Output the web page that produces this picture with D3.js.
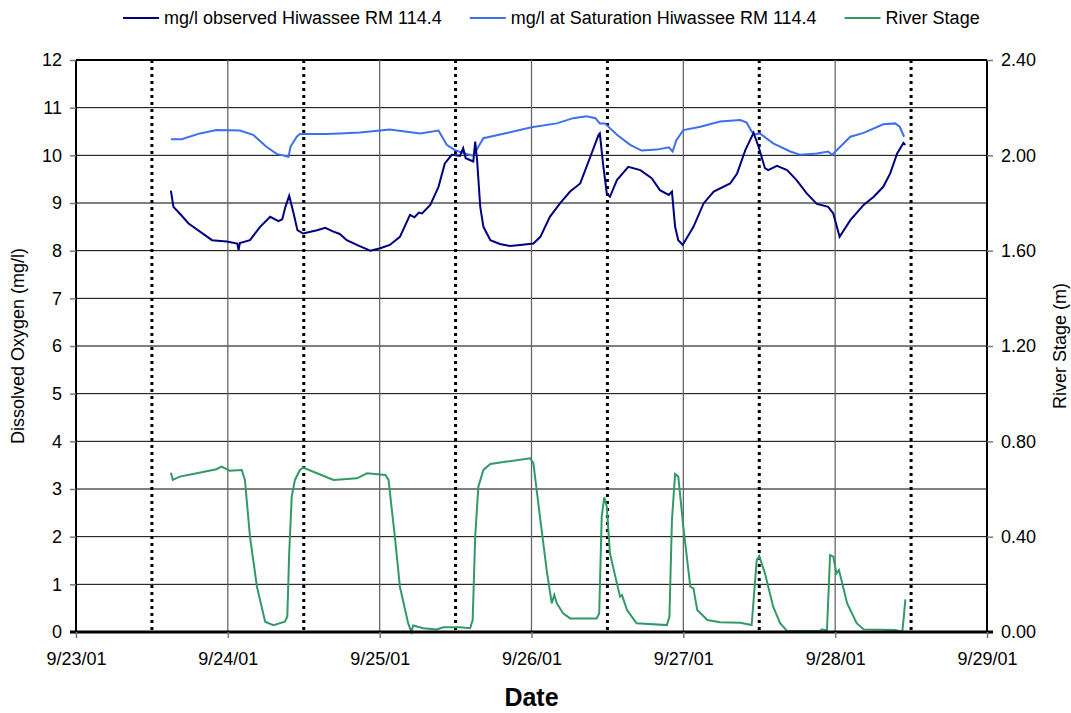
<!DOCTYPE html>
<html lang="en">
<head>
    <meta charset="UTF-8">
    <title>Hiwassee RM 114.4 Dissolved Oxygen</title>
    <style>
        body { margin: 0; background: #fff; }
        text { font-family: "Liberation Sans", Arial, sans-serif; fill: #000; }
    </style>
</head>
<body>
    <svg id="chart" width="1071" height="713"></svg>
    <script src="https://d3js.org/d3.v7.min.js"></script>
    <script>
        // hours after 9/23/01 00:00 and the value read at that time
        const observedHours = [15.0, 15.4, 16.4, 17.8, 19.6, 21.5, 23.8, 25.5, 25.7, 25.9, 27.5, 29.1, 30.7, 32.0, 32.6, 33.1, 33.7, 34.4, 35.0, 35.9,
            38.1, 39.4, 40.7, 41.7, 42.8, 44.4, 46.5, 48.1, 49.6, 51.2, 52.8, 53.5, 54.2, 54.7, 56.0, 57.3, 58.3, 59.4, 60.7, 61.2,
            61.6, 62.8, 63.1, 63.4, 63.9, 64.4, 65.5, 67.0, 68.6, 70.2, 72.3, 73.4, 74.9, 76.5, 78.1, 79.7, 81.3, 82.6, 82.8, 83.3,
            83.9, 84.4, 85.5, 87.3, 89.2, 91.0, 92.3, 93.7, 94.2, 94.7, 95.2, 95.9, 97.6, 99.2, 100.8, 103.4, 104.5, 105.8, 107.1, 107.9,
            108.9, 109.4, 110.8, 112.4, 113.9, 115.5, 117.1, 118.9, 119.7, 120.7, 122.4, 124.5, 126.1, 127.6, 128.7, 129.8, 130.8, 131.1];
        const observedDO = [9.26, 8.92, 8.78, 8.57, 8.40, 8.22, 8.19, 8.15, 8.01, 8.16, 8.22, 8.50, 8.71, 8.62, 8.66, 8.92, 9.15, 8.78, 8.43, 8.36,
            8.43, 8.48, 8.40, 8.35, 8.22, 8.12, 8.00, 8.05, 8.12, 8.29, 8.75, 8.70, 8.80, 8.78, 8.96, 9.34, 9.83, 10.01, 9.99, 10.15,
            9.94, 9.87, 10.29, 9.90, 8.92, 8.50, 8.22, 8.14, 8.10, 8.12, 8.15, 8.29, 8.71, 8.99, 9.24, 9.41, 9.97, 10.43, 10.46, 9.83,
            9.20, 9.13, 9.48, 9.76, 9.69, 9.52, 9.27, 9.17, 9.24, 8.50, 8.22, 8.12, 8.50, 8.99, 9.24, 9.41, 9.62, 10.11, 10.47, 10.18,
            9.73, 9.69, 9.78, 9.69, 9.48, 9.20, 8.98, 8.92, 8.78, 8.29, 8.64, 8.96, 9.13, 9.34, 9.62, 10.04, 10.26, 10.22];

        const saturationHours = [15.0, 16.7, 19.6, 22.2, 25.9, 28.0, 30.1, 31.7, 33.6, 33.9, 34.9, 35.4, 39.6, 41.7, 44.9, 49.6, 54.4, 57.3, 58.6, 59.9,
            61.2, 62.8, 63.6, 64.4, 68.1, 72.0, 76.0, 78.6, 80.7, 82.1, 82.8, 83.6, 85.5, 87.6, 89.4, 91.8, 93.7, 94.3, 94.9, 96.0,
            98.7, 101.8, 105.0, 106.0, 106.8, 107.3, 108.1, 110.2, 112.9, 114.5, 117.1, 118.9, 119.5, 120.8, 122.4, 124.5, 127.6, 129.5, 130.2, 130.9];
        const saturationDO = [10.34, 10.34, 10.46, 10.53, 10.52, 10.43, 10.18, 10.03, 9.97, 10.18, 10.39, 10.45, 10.45, 10.46, 10.48, 10.54, 10.46, 10.52, 10.22, 10.11,
            10.05, 9.99, 10.18, 10.36, 10.47, 10.59, 10.67, 10.78, 10.82, 10.78, 10.67, 10.67, 10.43, 10.22, 10.10, 10.12, 10.17, 10.08, 10.32, 10.53,
            10.60, 10.71, 10.74, 10.69, 10.50, 10.44, 10.46, 10.25, 10.08, 10.01, 10.04, 10.08, 10.01, 10.18, 10.39, 10.47, 10.65, 10.67, 10.60, 10.39];

        const stageHours = [15.0, 15.3, 16.4, 19.1, 22.2, 23.0, 24.3, 26.2, 26.7, 27.5, 28.6, 29.9, 31.2, 33.0, 33.4, 33.7, 34.1, 34.6, 35.4, 35.9,
            38.1, 40.7, 44.4, 46.0, 48.9, 49.4, 50.4, 51.2, 52.5, 53.0, 53.3, 54.9, 57.0, 58.1, 60.7, 62.3, 62.7, 63.1, 63.6, 64.4,
            65.5, 68.1, 71.8, 72.3, 73.4, 74.4, 75.2, 75.6, 76.0, 77.0, 78.1, 82.3, 82.7, 83.1, 83.5, 83.9, 84.4, 85.5, 86.0, 86.3,
            87.1, 88.6, 93.4, 93.8, 94.2, 94.7, 95.2, 96.0, 97.1, 97.6, 98.2, 99.8, 101.8, 105.0, 106.8, 107.6, 108.0, 108.9, 110.2, 111.3,
            112.4, 117.6, 117.9, 118.7, 119.2, 119.7, 120.2, 120.6, 121.9, 123.4, 124.5, 129.5, 130.6, 130.8, 131.1];
        const stageM = [0.668, 0.638, 0.652, 0.666, 0.683, 0.694, 0.677, 0.680, 0.638, 0.400, 0.190, 0.043, 0.029, 0.043, 0.064, 0.330, 0.568, 0.638, 0.680, 0.690,
            0.666, 0.638, 0.645, 0.666, 0.659, 0.638, 0.400, 0.190, 0.037, 0.001, 0.027, 0.016, 0.011, 0.020, 0.020, 0.016, 0.050, 0.400, 0.610, 0.680,
            0.705, 0.715, 0.729, 0.708, 0.470, 0.260, 0.120, 0.155, 0.120, 0.078, 0.057, 0.057, 0.078, 0.484, 0.565, 0.526, 0.330, 0.204, 0.148, 0.155,
            0.092, 0.037, 0.029, 0.064, 0.470, 0.663, 0.652, 0.442, 0.190, 0.183, 0.092, 0.050, 0.041, 0.039, 0.029, 0.302, 0.319, 0.246, 0.106, 0.037,
            0.004, 0.004, 0.011, 0.006, 0.323, 0.316, 0.246, 0.260, 0.120, 0.037, 0.011, 0.008, 0.000, 0.050, 0.137];

        const dayTicks = ['2001-09-23', '2001-09-24', '2001-09-25', '2001-09-26', '2001-09-27', '2001-09-28', '2001-09-29'];
        const noonMarks = ['2001-09-23', '2001-09-24', '2001-09-25', '2001-09-26', '2001-09-27', '2001-09-28']; // dotted line at 12:00 of each
        const doTicks = [0, 1, 2, 3, 4, 5, 6, 7, 8, 9, 10, 11, 12];
        const stageTicks = [0, 0.4, 0.8, 1.2, 1.6, 2.0, 2.4];

        const seriesNames = ['mg/l observed Hiwassee RM 114.4', 'mg/l at Saturation Hiwassee RM 114.4', 'River Stage'];
        const seriesColors = ['#000080', '#3d6ff0', '#339966'];

        const plotLeft = 76, plotRight = 987, plotTop = 60, plotBottom = 632;
        const fontSize = 18;

        const parseDay = d3.timeParse('%Y-%m-%d');
        const start = parseDay(dayTicks[0]);
        const hoursToDate = h => new Date(start.getTime() + h * 3600 * 1000);

        const x = d3.scaleTime()
                    .domain([start, parseDay(dayTicks[dayTicks.length - 1])])
                    .range([plotLeft, plotRight]);
        const yDO = d3.scaleLinear().domain([0, 12]).range([plotBottom, plotTop]);
        const yStage = d3.scaleLinear().domain([0, 2.4]).range([plotBottom, plotTop]);

        const svg = d3.select('#chart');

        // horizontal grid (black) and vertical day grid (grey)
        svg.append('g')
            .selectAll('line')
            .data(doTicks.slice(1))
            .join('line')
            .attr('x1', plotLeft).attr('x2', plotRight)
            .attr('y1', d => yDO(d)).attr('y2', d => yDO(d))
            .attr('stroke', '#000')
            .attr('stroke-width', d => d === 12 ? 2 : 1);

        svg.append('g')
            .selectAll('line')
            .data(dayTicks.slice(1, -1).map(parseDay))
            .join('line')
            .attr('x1', d => x(d)).attr('x2', d => x(d))
            .attr('y1', plotTop).attr('y2', plotBottom)
            .attr('stroke', '#666')
            .attr('stroke-width', 1.3);

        // dotted noon markers
        svg.append('g')
            .selectAll('line')
            .data(noonMarks.map(d => d3.timeHour.offset(parseDay(d), 12)))
            .join('line')
            .attr('x1', d => x(d)).attr('x2', d => x(d))
            .attr('y1', plotTop).attr('y2', plotBottom)
            .attr('stroke', '#000')
            .attr('stroke-width', 3)
            .attr('stroke-dasharray', '3,4');

        // the three series
        const doLine = d3.line().x(d => x(hoursToDate(d[0]))).y(d => yDO(d[1]));
        const stageLine = d3.line().x(d => x(hoursToDate(d[0]))).y(d => yStage(d[1]));

        svg.append('path')
            .datum(d3.zip(stageHours, stageM))
            .attr('d', stageLine)
            .attr('fill', 'none').attr('stroke', seriesColors[2]).attr('stroke-width', 2);
        svg.append('path')
            .datum(d3.zip(saturationHours, saturationDO))
            .attr('d', doLine)
            .attr('fill', 'none').attr('stroke', seriesColors[1]).attr('stroke-width', 2);
        svg.append('path')
            .datum(d3.zip(observedHours, observedDO))
            .attr('d', doLine)
            .attr('fill', 'none').attr('stroke', seriesColors[0]).attr('stroke-width', 2);

        // axes
        const leftAxis = svg.append('g')
            .attr('transform', `translate(${plotLeft},0)`)
            .call(d3.axisLeft(yDO).tickValues(doTicks).tickSize(6).tickPadding(8).tickFormat(d3.format('d')));
        const rightAxis = svg.append('g')
            .attr('transform', `translate(${plotRight},0)`)
            .call(d3.axisRight(yStage).tickValues(stageTicks).tickSize(6).tickPadding(8).tickFormat(d3.format('.2f')));
        const bottomAxis = svg.append('g')
            .attr('transform', `translate(0,${plotBottom})`)
            .call(d3.axisBottom(x).tickValues(dayTicks.map(parseDay)).tickSize(6).tickPadding(14).tickFormat(d3.timeFormat('%-m/%-d/%y')));

        [leftAxis, rightAxis, bottomAxis].forEach(a => {
            a.select('.domain').attr('stroke', '#000').attr('stroke-width', 2);
            a.selectAll('.tick line').attr('stroke', '#777').attr('stroke-width', 1.5);
            a.selectAll('text').attr('font-size', fontSize).attr('font-family', '"Liberation Sans", Arial, sans-serif').attr('fill', '#000');
        });
        leftAxis.select('.domain').attr('d', `M0,${plotTop}V${plotBottom}`);
        rightAxis.select('.domain').attr('d', `M0,${plotTop}V${plotBottom}`);
        bottomAxis.select('.domain').attr('d', `M${plotLeft - 6},0H${plotRight + 6}`).attr('stroke-width', 3);

        // titles
        svg.append('text')
            .attr('transform', `translate(24,${(plotTop + plotBottom) / 2}) rotate(-90)`)
            .attr('text-anchor', 'middle')
            .attr('font-size', fontSize)
            .text('Dissolved Oxygen (mg/l)');
        svg.append('text')
            .attr('transform', `translate(1066,${(plotTop + plotBottom) / 2}) rotate(-90)`)
            .attr('text-anchor', 'middle')
            .attr('font-size', fontSize)
            .text('River Stage (m)');
        svg.append('text')
            .attr('x', (plotLeft + plotRight) / 2).attr('y', 706)
            .attr('text-anchor', 'middle')
            .attr('font-size', 25).attr('font-weight', 'bold')
            .text('Date');

        // legend
        let lx = 123;
        const legend = svg.append('g');
        seriesNames.forEach((name, i) => {
            legend.append('line')
                .attr('x1', lx).attr('x2', lx + 36)
                .attr('y1', 18).attr('y2', 18)
                .attr('stroke', seriesColors[i]).attr('stroke-width', 2);
            const t = legend.append('text')
                .attr('x', lx + 41).attr('y', 24)
                .attr('font-size', fontSize)
                .text(name);
            lx += 41 + t.node().getComputedTextLength() + 28;
        });
    </script>
</body>
</html>
